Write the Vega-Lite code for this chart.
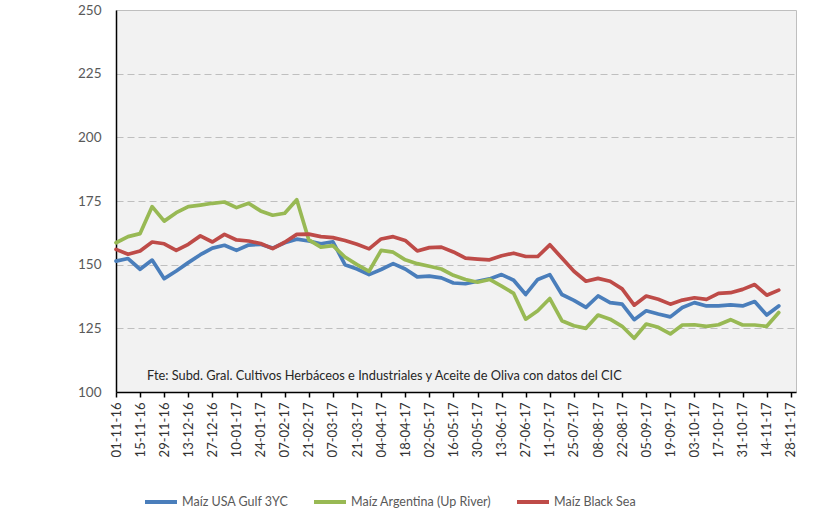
{
  "$schema": "https://vega.github.io/schema/vega-lite/v6.json",
  "width": 680,
  "height": 382,
  "autosize": "none",
  "padding": {"left": 116, "top": 10, "right": 27, "bottom": 131},
  "background": "white",
  "config": {
    "view": {"fill": "#F2F2F2", "stroke": "#BFBFBF", "strokeWidth": 1},
    "font": "Lato"
  },
  "layer": [
    {
      "data": {
        "values": [
          {"fecha": "2016-11-01", "usa": 151.4, "arg": 158.6, "bs": 156.0},
          {"fecha": "2016-11-08", "usa": 152.4, "arg": 161.0, "bs": 154.1},
          {"fecha": "2016-11-15", "usa": 148.2, "arg": 162.2, "bs": 155.4},
          {"fecha": "2016-11-22", "usa": 151.8, "arg": 172.8, "bs": 158.9},
          {"fecha": "2016-11-29", "usa": 144.5, "arg": 167.1, "bs": 158.2},
          {"fecha": "2016-12-06", "usa": 147.5, "arg": 170.4, "bs": 155.6},
          {"fecha": "2016-12-13", "usa": 150.8, "arg": 172.8, "bs": 158.0},
          {"fecha": "2016-12-20", "usa": 153.9, "arg": 173.4, "bs": 161.3},
          {"fecha": "2016-12-27", "usa": 156.5, "arg": 174.1, "bs": 158.9},
          {"fecha": "2017-01-03", "usa": 157.6, "arg": 174.6, "bs": 161.9},
          {"fecha": "2017-01-10", "usa": 155.6, "arg": 172.4, "bs": 159.7},
          {"fecha": "2017-01-17", "usa": 157.7, "arg": 174.1, "bs": 159.3},
          {"fecha": "2017-01-24", "usa": 158.0, "arg": 171.1, "bs": 158.3},
          {"fecha": "2017-01-31", "usa": 156.5, "arg": 169.4, "bs": 156.3},
          {"fecha": "2017-02-07", "usa": 158.6, "arg": 170.2, "bs": 158.8},
          {"fecha": "2017-02-14", "usa": 160.0, "arg": 175.5, "bs": 161.9},
          {"fecha": "2017-02-21", "usa": 159.3, "arg": 159.7, "bs": 162.0},
          {"fecha": "2017-02-28", "usa": 158.2, "arg": 156.9, "bs": 161.0},
          {"fecha": "2017-03-07", "usa": 159.0, "arg": 157.5, "bs": 160.6},
          {"fecha": "2017-03-14", "usa": 150.0, "arg": 153.0, "bs": 159.5},
          {"fecha": "2017-03-21", "usa": 148.3, "arg": 150.0, "bs": 158.0},
          {"fecha": "2017-03-28", "usa": 146.1, "arg": 147.4, "bs": 156.2},
          {"fecha": "2017-04-04", "usa": 148.1, "arg": 155.6, "bs": 160.1},
          {"fecha": "2017-04-11", "usa": 150.4, "arg": 154.9, "bs": 161.0},
          {"fecha": "2017-04-18", "usa": 148.3, "arg": 151.9, "bs": 159.5},
          {"fecha": "2017-04-25", "usa": 145.2, "arg": 150.4, "bs": 155.4},
          {"fecha": "2017-05-02", "usa": 145.5, "arg": 149.4, "bs": 156.7},
          {"fecha": "2017-05-09", "usa": 144.8, "arg": 148.3, "bs": 156.9},
          {"fecha": "2017-05-16", "usa": 142.8, "arg": 145.8, "bs": 155.0},
          {"fecha": "2017-05-23", "usa": 142.5, "arg": 144.2, "bs": 152.6},
          {"fecha": "2017-05-30", "usa": 143.5, "arg": 143.1, "bs": 152.2},
          {"fecha": "2017-06-06", "usa": 144.4, "arg": 144.2, "bs": 151.9},
          {"fecha": "2017-06-13", "usa": 146.1, "arg": 141.6, "bs": 153.5},
          {"fecha": "2017-06-20", "usa": 143.9, "arg": 138.7, "bs": 154.5},
          {"fecha": "2017-06-27", "usa": 138.3, "arg": 128.6, "bs": 153.2},
          {"fecha": "2017-07-04", "usa": 144.2, "arg": 131.9, "bs": 153.2},
          {"fecha": "2017-07-11", "usa": 146.1, "arg": 136.7, "bs": 157.8},
          {"fecha": "2017-07-18", "usa": 138.3, "arg": 128.0, "bs": 152.6},
          {"fecha": "2017-07-25", "usa": 136.0, "arg": 126.0, "bs": 147.4},
          {"fecha": "2017-08-01", "usa": 133.2, "arg": 125.0, "bs": 143.5},
          {"fecha": "2017-08-08", "usa": 137.7, "arg": 130.2, "bs": 144.6},
          {"fecha": "2017-08-15", "usa": 135.1, "arg": 128.6, "bs": 143.5},
          {"fecha": "2017-08-22", "usa": 134.5, "arg": 125.8, "bs": 140.5},
          {"fecha": "2017-08-29", "usa": 128.4, "arg": 121.1, "bs": 134.1},
          {"fecha": "2017-09-05", "usa": 131.9, "arg": 126.7, "bs": 137.7},
          {"fecha": "2017-09-12", "usa": 130.6, "arg": 125.4, "bs": 136.4},
          {"fecha": "2017-09-19", "usa": 129.5, "arg": 122.8, "bs": 134.5},
          {"fecha": "2017-09-26", "usa": 133.2, "arg": 126.3, "bs": 136.1},
          {"fecha": "2017-10-03", "usa": 135.1, "arg": 126.4, "bs": 137.0},
          {"fecha": "2017-10-10", "usa": 133.8, "arg": 125.8, "bs": 136.4},
          {"fecha": "2017-10-17", "usa": 133.8, "arg": 126.4, "bs": 138.7},
          {"fecha": "2017-10-24", "usa": 134.2, "arg": 128.4, "bs": 139.0},
          {"fecha": "2017-10-31", "usa": 133.8, "arg": 126.3, "bs": 140.3},
          {"fecha": "2017-11-07", "usa": 135.5, "arg": 126.3, "bs": 142.2},
          {"fecha": "2017-11-14", "usa": 130.2, "arg": 125.8, "bs": 138.0},
          {"fecha": "2017-11-21", "usa": 133.8, "arg": 131.2, "bs": 140.0}
        ]
      },
      "transform": [
        {"fold": ["usa", "arg", "bs"], "as": ["serie", "precio"]}
      ],
      "mark": {"type": "line", "strokeWidth": 3.7, "strokeJoin": "round", "strokeCap": "round"},
      "encoding": {
        "x": {
          "field": "fecha",
          "type": "temporal",
          "scale": {
            "type": "utc",
            "domain": [
              {"year": 2016, "month": 11, "date": 1, "utc": true},
              {"year": 2017, "month": 12, "date": 1, "utc": true}
            ]
          },
          "axis": {
            "title": null,
            "grid": false,
            "tickCount": 60,
            "values": [
              {"year": 2016, "month": 11, "date": 1, "utc": true},
              {"year": 2016, "month": 11, "date": 15, "utc": true},
              {"year": 2016, "month": 11, "date": 29, "utc": true},
              {"year": 2016, "month": 12, "date": 13, "utc": true},
              {"year": 2016, "month": 12, "date": 27, "utc": true},
              {"year": 2017, "month": 1, "date": 10, "utc": true},
              {"year": 2017, "month": 1, "date": 24, "utc": true},
              {"year": 2017, "month": 2, "date": 7, "utc": true},
              {"year": 2017, "month": 2, "date": 21, "utc": true},
              {"year": 2017, "month": 3, "date": 7, "utc": true},
              {"year": 2017, "month": 3, "date": 21, "utc": true},
              {"year": 2017, "month": 4, "date": 4, "utc": true},
              {"year": 2017, "month": 4, "date": 18, "utc": true},
              {"year": 2017, "month": 5, "date": 2, "utc": true},
              {"year": 2017, "month": 5, "date": 16, "utc": true},
              {"year": 2017, "month": 5, "date": 30, "utc": true},
              {"year": 2017, "month": 6, "date": 13, "utc": true},
              {"year": 2017, "month": 6, "date": 27, "utc": true},
              {"year": 2017, "month": 7, "date": 11, "utc": true},
              {"year": 2017, "month": 7, "date": 25, "utc": true},
              {"year": 2017, "month": 8, "date": 8, "utc": true},
              {"year": 2017, "month": 8, "date": 22, "utc": true},
              {"year": 2017, "month": 9, "date": 5, "utc": true},
              {"year": 2017, "month": 9, "date": 19, "utc": true},
              {"year": 2017, "month": 10, "date": 3, "utc": true},
              {"year": 2017, "month": 10, "date": 17, "utc": true},
              {"year": 2017, "month": 10, "date": 31, "utc": true},
              {"year": 2017, "month": 11, "date": 14, "utc": true},
              {"year": 2017, "month": 11, "date": 28, "utc": true}
            ],
            "labelExpr": "utcFormat(datum.value, '%d-%m-%y')",
            "labelAngle": -90,
            "labelAlign": "right",
            "labelBaseline": "middle",
            "labelFontSize": 13,
            "labelColor": "#333333",
            "labelPadding": 5,
            "labelOverlap": false,
            "labelFlush": false,
            "tickColor": "black",
            "tickSize": 5,
            "tickWidth": 1.5,
            "domainColor": "black",
            "domainWidth": 1.5
          }
        },
        "y": {
          "field": "precio",
          "type": "quantitative",
          "scale": {"domain": [100, 250], "nice": false, "zero": false},
          "axis": {
            "title": null,
            "values": [100, 125, 150, 175, 200, 225, 250],
            "grid": true,
            "gridDash": [7, 4],
            "gridColor": "#BFBFBF",
            "gridWidth": 1,
            "ticks": false,
            "domainColor": "black",
            "domainWidth": 1.5,
            "labelColor": "#595959",
            "labelFontSize": 13.5,
            "labelPadding": 15
          }
        },
        "color": {
          "field": "serie",
          "type": "nominal",
          "scale": {"domain": ["usa", "arg", "bs"], "range": ["#4A7EBB", "#98B954", "#BE4B48"]},
          "legend": {
            "title": null,
            "orient": "none",
            "direction": "horizontal",
            "legendX": 27,
            "legendY": 474,
            "symbolType": "stroke",
            "symbolSize": 1024,
            "symbolStrokeWidth": 4,
            "labelOffset": 3,
            "columnPadding": 17,
            "labelFontSize": 12.5,
            "labelColor": "#595959",
            "labelExpr": "datum.value == 'usa' ? 'Maíz USA Gulf 3YC' : datum.value == 'arg' ? 'Maíz Argentina (Up River)' : 'Maíz Black Sea'"
          }
        }
      }
    },
    {
      "data": {
        "values": [
          {"fecha": "2016-11-19", "precio": 106.3, "texto": "Fte: Subd. Gral. Cultivos Herbáceos e Industriales y Aceite de Oliva con datos del CIC"}
        ]
      },
      "mark": {"type": "text", "align": "left", "baseline": "middle", "fontSize": 12.8, "color": "#262626"},
      "encoding": {
        "x": {"field": "fecha", "type": "temporal"},
        "y": {"field": "precio", "type": "quantitative"},
        "text": {"field": "texto"}
      }
    }
  ]
}
